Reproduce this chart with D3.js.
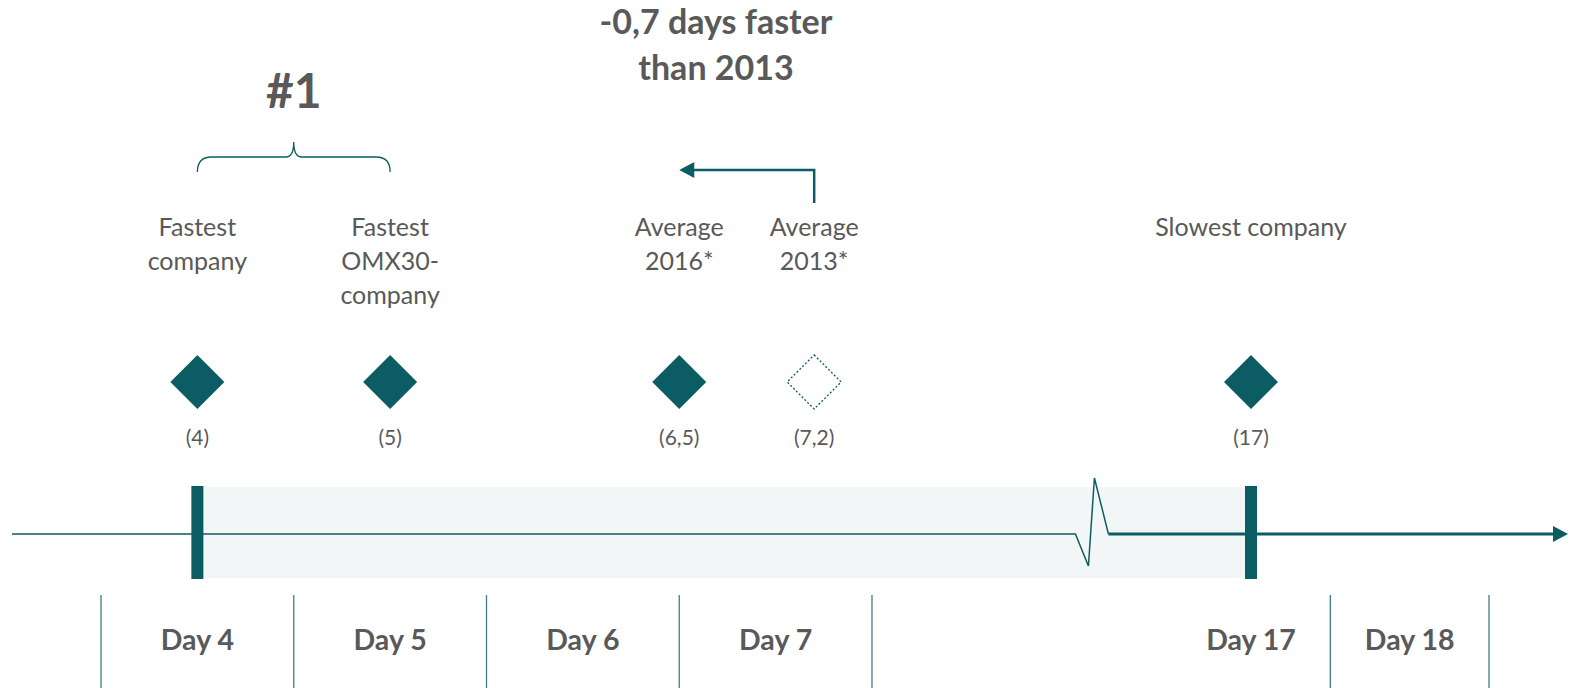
<!DOCTYPE html>
<html>
<head>
<meta charset="utf-8">
<script src="https://cdn.jsdelivr.net/npm/d3@7.9.0/dist/d3.min.js"></script>
<style>
  body { margin: 0; background: #fff; }
  svg { display: block; font-family: Lato, "Open Sans", sans-serif; }
</style>
</head>
<body>
<svg id="chart" width="1570" height="688"></svg>
<script>
// data
const titleLines = ['-0,7 days faster', 'than 2013'];
const rankLabel = '#1';
const markerLabels = [['Fastest', 'company'], ['Fastest', 'OMX30-', 'company'], ['Average', '2016*'], ['Average', '2013*'], ['Slowest company']];
const markerValues = [4, 5, 6.5, 7.2, 17];
const valueLabels = ['(4)', '(5)', '(6,5)', '(7,2)', '(17)'];
const markerDashed = [false, false, false, true, false];
const dayTicks = [4, 5, 6, 7, 17, 18];
const dayLabels = ['Day 4', 'Day 5', 'Day 6', 'Day 7', 'Day 17', 'Day 18'];
const cellEdges = [3.5, 4.5, 5.5, 6.5, 7.5, 17.5, 18.5];
const rangeDays = [4, 17];      // fastest .. slowest
const bracketDays = [4, 5];     // the "#1" group
const changeDays = [7.2, 6.5];  // 2013 -> 2016
const axisBreak = 13;

const teal = '#0b5c63';
const grey = '#595959';

const svg = d3.select('#chart');

// x scale with a broken section between day 7 and day 17
const x = d3.scaleLinear()
  .domain([3.5, 7.5, 17, 18.5])
  .range([101, 872, 1251, 1489]);

const axisY = 534;

// shaded range band
svg.append('rect')
  .attr('x', x(rangeDays[0]))
  .attr('y', 487)
  .attr('width', x(rangeDays[1]) - x(rangeDays[0]))
  .attr('height', 91)
  .attr('fill', '#f2f6f7');

// axis line with break
const bx = x(axisBreak);
svg.append('path')
  .attr('d', `M12,${axisY} L${bx - 16},${axisY} L${bx - 3},${axisY + 32} L${bx + 3},${axisY - 56} L${bx + 17},${axisY}`)
  .attr('fill', 'none')
  .attr('stroke', teal)
  .attr('stroke-width', 1.5);
svg.append('line')
  .attr('x1', bx + 17).attr('x2', 1553)
  .attr('y1', axisY).attr('y2', axisY)
  .attr('stroke', teal)
  .attr('stroke-width', 3);
svg.append('path')
  .attr('d', `M1553,${axisY - 8} L1568,${axisY} L1553,${axisY + 8} Z`)
  .attr('fill', teal);

// thick markers at ends of range
svg.selectAll('rect.end')
  .data(rangeDays)
  .join('rect')
  .attr('class', 'end')
  .attr('x', (d) => x(d) - 6)
  .attr('y', 486)
  .attr('width', 12)
  .attr('height', 93)
  .attr('fill', teal);

// day cells
svg.selectAll('line.sep')
  .data(cellEdges)
  .join('line')
  .attr('class', 'sep')
  .attr('x1', (d) => x(d)).attr('x2', (d) => x(d))
  .attr('y1', 595).attr('y2', 688)
  .attr('stroke', '#3d7f85')
  .attr('stroke-width', 1.3);

svg.selectAll('text.day')
  .data(dayTicks)
  .join('text')
  .attr('class', 'day')
  .attr('x', (d) => x(d))
  .attr('y', 650)
  .attr('text-anchor', 'middle')
  .attr('font-size', 28.5)
  .attr('font-weight', 700)
  .attr('fill', grey)
  .text((d, i) => dayLabels[i]);

// diamonds
const diamondY = 382;
const r = 27;
svg.selectAll('path.diamond')
  .data(markerValues)
  .join('path')
  .attr('class', 'diamond')
  .attr('d', (d) => `M${x(d)},${diamondY - r} L${x(d) + r},${diamondY} L${x(d)},${diamondY + r} L${x(d) - r},${diamondY} Z`)
  .attr('fill', (d, i) => markerDashed[i] ? 'none' : teal)
  .attr('stroke', teal)
  .attr('stroke-width', (d, i) => markerDashed[i] ? 1.3 : 0)
  .attr('stroke-dasharray', (d, i) => markerDashed[i] ? '2,2' : null);

svg.selectAll('text.val')
  .data(markerValues)
  .join('text')
  .attr('class', 'val')
  .attr('x', (d) => x(d))
  .attr('y', 445)
  .attr('text-anchor', 'middle')
  .attr('font-size', 21)
  .attr('fill', grey)
  .text((d, i) => valueLabels[i]);

// marker labels
const labelG = svg.selectAll('text.lbl')
  .data(markerValues)
  .join('text')
  .attr('class', 'lbl')
  .attr('text-anchor', 'middle')
  .attr('font-size', 25)
  .attr('fill', grey);
labelG.each(function (d, i) {
  d3.select(this).selectAll('tspan')
    .data(markerLabels[i])
    .join('tspan')
    .attr('x', x(d))
    .attr('y', (t, j) => 236 + j * 34)
    .text((t) => t);
});

// bracket over the fastest two
const b0 = x(bracketDays[0]), b1 = x(bracketDays[1]);
const bm = (b0 + b1) / 2;
svg.append('path')
  .attr('d', `M${b0},172 Q${b0},157 ${b0 + 14},157 L${bm - 8},157 Q${bm},157 ${bm},142 Q${bm},157 ${bm + 8},157 L${b1 - 14},157 Q${b1},157 ${b1},172`)
  .attr('fill', 'none')
  .attr('stroke', teal)
  .attr('stroke-width', 1.3);

svg.append('text')
  .attr('x', bm)
  .attr('y', 108)
  .attr('text-anchor', 'middle')
  .attr('font-size', 48)
  .attr('font-weight', 700)
  .attr('fill', grey)
  .text(rankLabel);

// change arrow
const a0 = x(changeDays[0]), a1 = x(changeDays[1]);
svg.append('path')
  .attr('d', `M${a0},203 L${a0},170 L${a1 + 14},170`)
  .attr('fill', 'none')
  .attr('stroke', teal)
  .attr('stroke-width', 2.5);
svg.append('path')
  .attr('d', `M${a1},170 L${a1 + 15},162 L${a1 + 15},178 Z`)
  .attr('fill', teal);

// title
svg.append('text')
  .attr('x', 716)
  .attr('text-anchor', 'middle')
  .attr('font-size', 34)
  .attr('font-weight', 700)
  .attr('fill', grey)
  .selectAll('tspan')
  .data(titleLines)
  .join('tspan')
  .attr('x', 716)
  .attr('y', (d, i) => 34 + i * 46)
  .text((d) => d);
</script>
</body>
</html>
